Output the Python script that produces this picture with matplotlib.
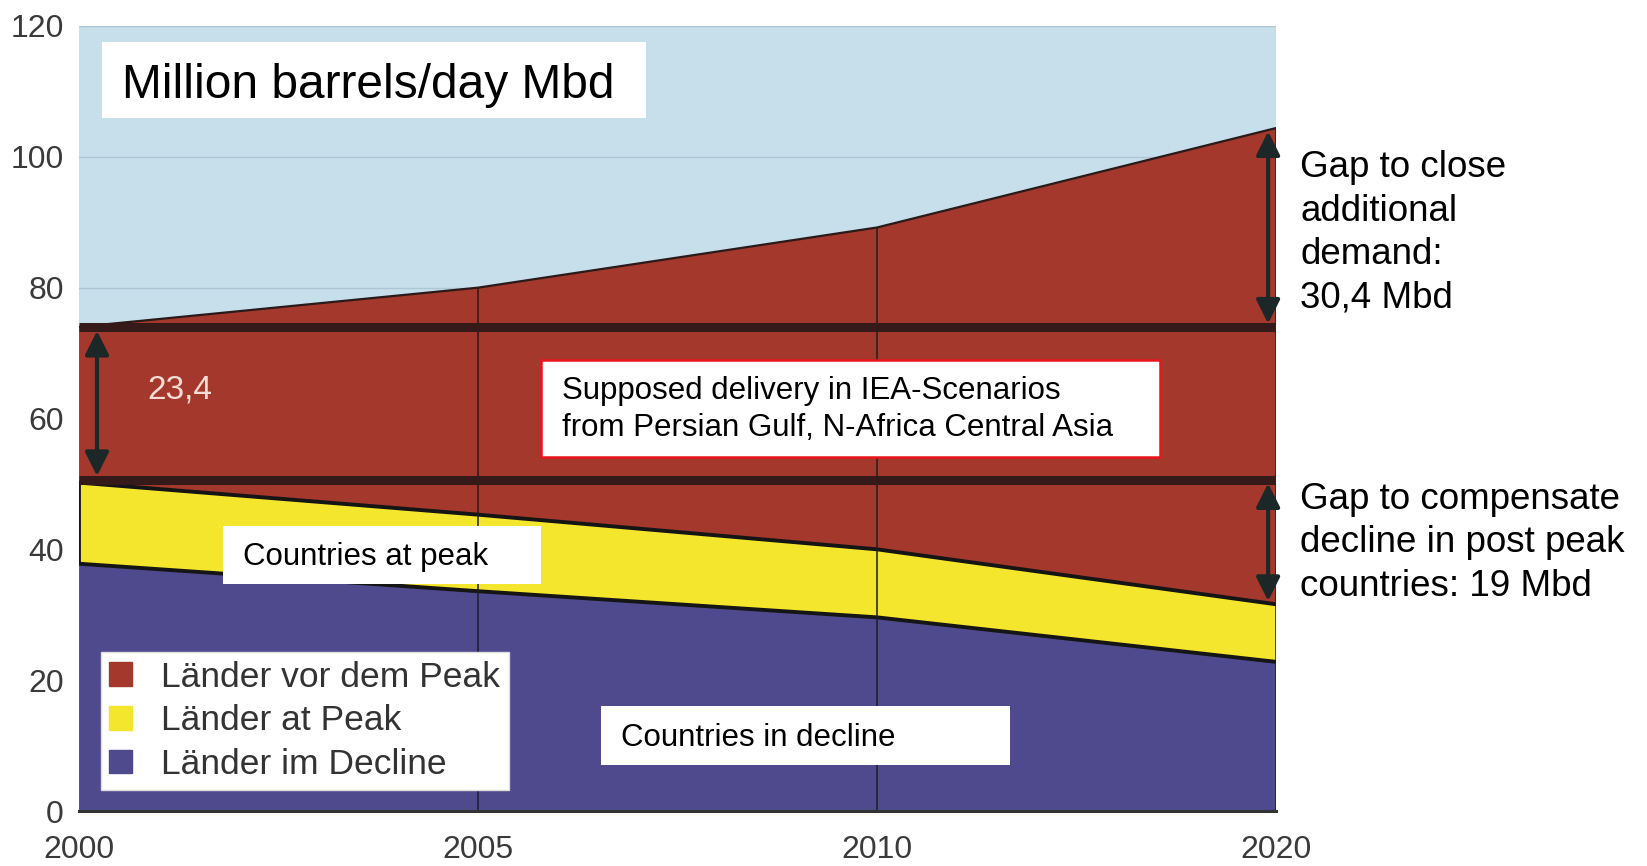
import matplotlib.pyplot as plt
import numpy as np
from matplotlib.patches import Rectangle, Patch

plt.rcParams['font.family'] = ['Liberation Sans', 'DejaVu Sans']

# Werte (Mbd)
years = ['2000', '2005', '2010', '2020']
decline = [37.8, 33.6, 29.6, 22.8]       # Länder im Decline
at_peak = [12.4, 11.7, 10.4, 8.8]        # Länder at Peak
pre_peak = [23.8, 34.7, 49.2, 72.8]      # Länder vor dem Peak
delivery_top = 74.0
delivery_bottom = 50.6
gap_low = 31.6

c_bg = '#c6dfea'
c_red = '#a4382c'
c_yellow = '#f4e62c'
c_blue = '#4f4a8e'
c_dark = '#361a1a'
c_arrow = '#1c2828'

x = np.arange(len(years))
decline = np.array(decline)
peak_top = decline + np.array(at_peak)
total = peak_top + np.array(pre_peak)

fig = plt.figure(figsize=(16.47, 8.66), dpi=100)
ax = fig.add_axes([0.048, 0.0635, 0.7268, 0.9065])
ax.set_facecolor(c_bg)

ax.stackplot(x, decline, at_peak, pre_peak,
             colors=[c_blue, c_yellow, c_red], zorder=2)
ax.plot(x, decline, color='#151515', lw=2.8, zorder=3)
ax.plot(x, peak_top, color='#151515', lw=2.8, zorder=3)
ax.plot(x, total, color='#2a1a1a', lw=1.6, zorder=3)
ax.vlines(x[1:], 0, total[1:], color='#1e1e1e', lw=1.1, zorder=3)
ax.vlines([x[0]], decline[0], peak_top[0], color='#151515', lw=2, zorder=3)

ax.hlines([delivery_top, delivery_bottom], x[0], x[-1], color=c_dark, lw=6.5, zorder=4)

# Pfeile
arrow_kw = dict(arrowstyle='<|-|>', color=c_arrow, lw=3, mutation_scale=36,
                shrinkA=0, shrinkB=0)
ax.annotate('', xy=(0.045, delivery_top - 0.6), xytext=(0.045, delivery_bottom + 0.6),
            arrowprops=arrow_kw, zorder=5)
ax.annotate('', xy=(2.98, total[-1] - 0.5), xytext=(2.98, delivery_top + 0.5),
            arrowprops=arrow_kw, zorder=5, annotation_clip=False)
ax.annotate('', xy=(2.98, delivery_bottom - 0.5), xytext=(2.98, gap_low + 0.5),
            arrowprops=arrow_kw, zorder=5, annotation_clip=False)
ax.text(0.17, 64.3, '23,4', color='#f6dcd4', fontsize=24, va='center', ha='left', zorder=5)

# Textkästen
ax.add_patch(Rectangle((0.058, 106.0), 1.363, 11.6, facecolor='white',
                       edgecolor='none', zorder=6))
ax.text(0.108, 110.9, 'Million barrels/day Mbd', fontsize=34.5, va='center', zorder=7)

ax.add_patch(Rectangle((1.158, 54.1), 1.55, 14.8, facecolor='white',
                       edgecolor='#e8151b', lw=1.8, zorder=6))
ax.text(1.211, 61.4, 'Supposed delivery in IEA-Scenarios\nfrom Persian Gulf, N-Africa Central Asia',
        fontsize=22.5, va='center', linespacing=1.32, zorder=7)

ax.add_patch(Rectangle((0.361, 34.7), 0.797, 8.8, facecolor='white',
                       edgecolor='none', zorder=6))
ax.text(0.411, 38.8, 'Countries at peak', fontsize=22.5, va='center', zorder=7)

ax.add_patch(Rectangle((1.308, 7.1), 1.026, 9.0, facecolor='white',
                       edgecolor='none', zorder=6))
ax.text(1.358, 11.2, 'Countries in decline', fontsize=22.5, va='center', zorder=7)

# Texte rechts
ax.text(3.06, 88.4, 'Gap to close\nadditional\ndemand:\n30,4 Mbd', fontsize=26.5,
        va='center', ha='left', linespacing=1.31, clip_on=False)
ax.text(3.06, 41.0, 'Gap to compensate\ndecline in post peak\ncountries: 19 Mbd',
        fontsize=26.5, va='center', ha='left', linespacing=1.31, clip_on=False)

# Legende
handles = [Patch(color=c_red), Patch(color=c_yellow), Patch(color=c_blue)]
labels = ['Länder vor dem Peak', 'Länder at Peak', 'Länder im Decline']
leg = ax.legend(handles, labels, loc='lower left', bbox_to_anchor=(0.018, 0.027),
                fontsize=25.5, frameon=True, fancybox=False, framealpha=1,
                edgecolor='#dddddd', handlelength=0.65, handleheight=0.65,
                handletextpad=0.8, labelspacing=0.3, borderpad=0.25,
                borderaxespad=0)
for t in leg.get_texts():
    t.set_color('#333333')
leg.set_zorder(8)

ax.set_xlim(0, 3)
ax.set_ylim(0, 120)
ax.set_xticks(x)
ax.set_xticklabels(years)
ax.set_yticks(np.arange(0, 121, 20))
ax.tick_params(length=0, labelsize=23, labelcolor='#3a3a3a')
ax.tick_params(axis='y', pad=11)
ax.tick_params(axis='x', pad=17)
ax.yaxis.grid(True, color='#aec6d3', lw=1)
ax.set_axisbelow(True)
for s in ['top', 'right', 'left']:
    ax.spines[s].set_visible(False)
ax.spines['bottom'].set_color('#333333')
ax.spines['bottom'].set_linewidth(2.2)
ax.spines['bottom'].set_zorder(6)

fig.savefig('out.png', dpi=100)
